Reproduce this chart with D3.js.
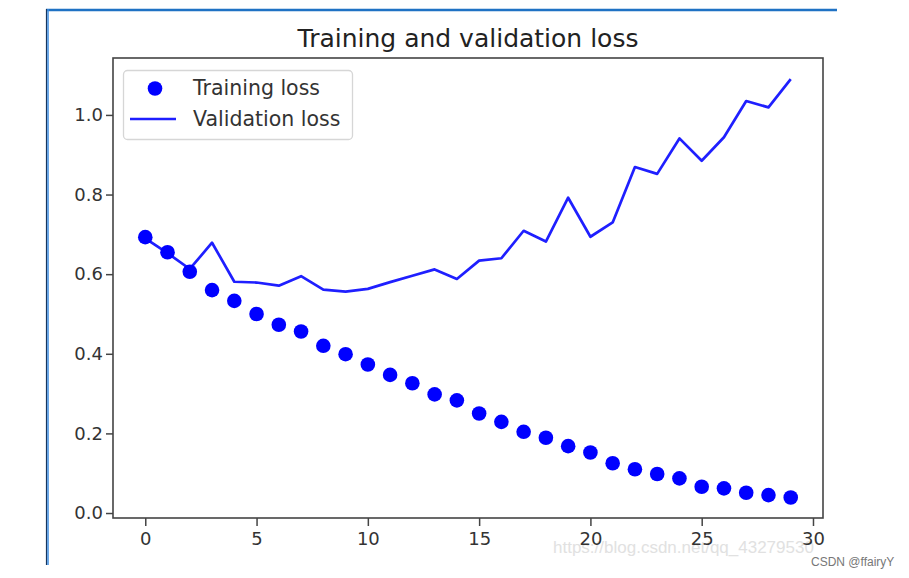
<!DOCTYPE html>
<html>
<head>
<meta charset="utf-8">
<script src="https://cdn.jsdelivr.net/npm/d3@7"></script>
<style>
  body { margin: 0; background: #fff; }
  svg { display: block; }
  text { font-family: 'DejaVu Sans', sans-serif; }
</style>
</head>
<body>
<svg></svg>
<script>
 let epochs = [0, 1, 2, 3, 4, 5, 6, 7, 8, 9, 10, 11, 12, 13, 14, 15, 16, 17, 18, 19, 20, 21, 22, 23, 24, 25, 26, 27, 28, 29]
 let trainingLoss = [0.693, 0.655, 0.606, 0.560, 0.533, 0.500, 0.473, 0.456, 0.420, 0.399, 0.373, 0.347, 0.326, 0.298, 0.283,
                     0.250, 0.229, 0.204, 0.189, 0.168, 0.152, 0.125, 0.110, 0.098, 0.087, 0.066, 0.062, 0.051, 0.045, 0.039]
 let validationLoss = [0.690, 0.653, 0.613, 0.679, 0.581, 0.579, 0.571, 0.595, 0.561, 0.556, 0.563, 0.580, 0.596, 0.612, 0.588,
                       0.634, 0.640, 0.709, 0.682, 0.792, 0.694, 0.730, 0.869, 0.852, 0.941, 0.885, 0.944, 1.035, 1.019, 1.090]
 let xTicks = [0, 5, 10, 15, 20, 25, 30]
 let yTicks = [0.0, 0.2, 0.4, 0.6, 0.8, 1.0]
 let legendLabels = ['Training loss', 'Validation loss']

 let width = 909
 let height = 578
 let plotLeft = 113
 let plotRight = 823
 let plotTop = 58
 let plotBottom = 518
 let blue = '#0000ff'

 let svg = d3.select('svg')
 let xScale
 let yScale

 let drawCanvas = () => {
    svg.attr('width', width)
    svg.attr('height', height)

    // blue page frame of the screenshot
    svg.append('line')
    .attr('x1', 46).attr('x2', 837).attr('y1', 10).attr('y2', 10)
    .attr('stroke', '#1f72c4').attr('stroke-width', 2.5)
    svg.append('line')
    .attr('x1', 46.5).attr('x2', 46.5).attr('y1', 9).attr('y2', 565)
    .attr('stroke', '#16355e').attr('stroke-width', 1.2)
    svg.append('line')
    .attr('x1', 48).attr('x2', 48).attr('y1', 9).attr('y2', 565)
    .attr('stroke', '#3d8ce0').attr('stroke-width', 1.5)
}

let generateScales = () => {
    xScale = d3.scaleLinear()
    .domain([-1.45, 30.45])
    .range([plotLeft, plotRight])

    yScale = d3.scaleLinear()
    .domain([-0.0125, 1.143])
    .range([plotBottom, plotTop])
}

let generateAxes = () => {
    let xAxis = d3.axisBottom(xScale)
    .tickValues(xTicks)
    .tickFormat(d3.format('d'))
    .tickSize(8)
    .tickPadding(6)
    .tickSizeOuter(0)

    let yAxis = d3.axisLeft(yScale)
    .tickValues(yTicks)
    .tickFormat(d3.format('.1f'))
    .tickSize(7)
    .tickPadding(3)
    .tickSizeOuter(0)

    let gx = svg.append('g')
    .call(xAxis)
    .attr('id', 'x-axis')
    .attr('transform', 'translate(0, ' + plotBottom + ')')

    let gy = svg.append('g')
    .call(yAxis)
    .attr('id', 'y-axis')
    .attr('transform', 'translate(' + plotLeft + ', 0)')

    ;[gx, gy].forEach((g) => {
        g.select('.domain').remove()
        g.selectAll('line').attr('stroke', '#444').attr('stroke-width', 1.5)
        g.selectAll('text')
        .attr('fill', '#333')
        .style('font-size', '18px')
        .style('font-family', "'DejaVu Sans', sans-serif")
    })

    svg.append('rect')
    .attr('x', plotLeft)
    .attr('y', plotTop)
    .attr('width', plotRight - plotLeft)
    .attr('height', plotBottom - plotTop)
    .attr('fill', 'none')
    .attr('stroke', '#444')
    .attr('stroke-width', 1.6)

    svg.append('text')
    .attr('x', (plotLeft + plotRight) / 2)
    .attr('y', 47)
    .attr('text-anchor', 'middle')
    .attr('fill', '#222')
    .style('font-size', '25px')
    .text('Training and validation loss')
}

let drawSeries = () => {
    let line = d3.line()
    .x((item, index) => xScale(epochs[index]))
    .y((item) => yScale(item))

    svg.append('path')
    .datum(validationLoss)
    .attr('d', line)
    .attr('fill', 'none')
    .attr('stroke', blue)
    .attr('stroke-width', 2.7)
    .attr('stroke-linejoin', 'round')
    .attr('opacity', 0.88)

    svg.selectAll('circle.train')
    .data(trainingLoss)
    .enter()
    .append('circle')
    .attr('class', 'train')
    .attr('cx', (item, index) => xScale(epochs[index]))
    .attr('cy', (item) => yScale(item))
    .attr('r', 7.3)
    .attr('fill', blue)
}

let drawLegend = () => {
    let legend = svg.append('g')

    legend.append('rect')
    .attr('x', 123.5).attr('y', 70.5)
    .attr('width', 229).attr('height', 69)
    .attr('rx', 4)
    .attr('fill', '#fff')
    .attr('stroke', '#d6d6d6')
    .attr('stroke-width', 1.3)

    legend.append('circle')
    .attr('cx', 155).attr('cy', 88.5).attr('r', 7.3)
    .attr('fill', blue)

    legend.append('line')
    .attr('x1', 130).attr('x2', 176).attr('y1', 119).attr('y2', 119)
    .attr('stroke', blue).attr('stroke-width', 2.7).attr('opacity', 0.88)

    legend.selectAll('text')
    .data(legendLabels)
    .enter()
    .append('text')
    .attr('x', 193)
    .attr('y', (item, index) => 95 + index * 31)
    .attr('fill', '#333')
    .style('font-size', '20.5px')
    .text((item) => item)
}

let drawWatermark = () => {
    svg.append('text')
    .attr('x', 553).attr('y', 553)
    .attr('fill', '#dcdcdc')
    .attr('opacity', 0.85)
    .style('font-family', "'Liberation Sans', Arial, sans-serif")
    .style('font-size', '17px')
    .text('https://blog.csdn.net/qq_43279530')

    svg.append('text')
    .attr('x', 811).attr('y', 566)
    .attr('fill', '#777')
    .style('font-family', "'Liberation Sans', Arial, sans-serif")
    .style('font-size', '12px')
    .text('CSDN @ffairyY')
}

drawCanvas()
generateScales()
drawWatermark()
generateAxes()
drawSeries()
drawLegend()
</script>
</body>
</html>
